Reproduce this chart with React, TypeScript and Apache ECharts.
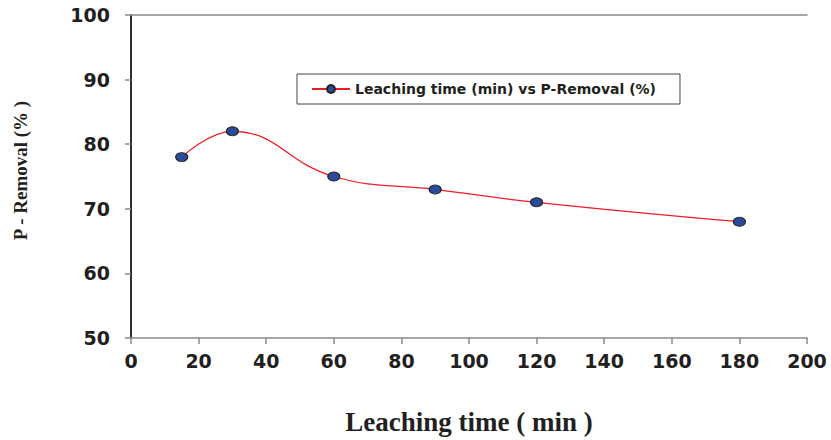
import React, { useEffect, useRef } from "react";
import * as echarts from "echarts";

const seriesName = "Leaching time (min) vs P-Removal (%)";
const leachingTime = [15, 30, 60, 90, 120, 180];
const pRemoval = [78, 82, 75, 73, 71, 68];
const xTitle = "Leaching time ( min )";
const yTitle = "P - Removal (% )";

export default function App() {
  const ref = useRef<HTMLDivElement>(null);
  useEffect(() => {
    if (!ref.current) return;
    const chart = echarts.init(ref.current, undefined, { renderer: "svg" });
    const labelFont = {
      fontFamily: "DejaVu Sans",
      fontWeight: "bold" as const,
      fontSize: 19,
      color: "#231f20",
    };
    const data = leachingTime.map((t, i) => [t, pRemoval[i]]);
    chart.setOption({
      animation: false,
      backgroundColor: "#ffffff",
      grid: { left: 131, top: 15, width: 676, height: 326, containLabel: false },
      legend: {
        data: [seriesName],
        left: 297,
        top: 74,
        borderColor: "#444",
        borderWidth: 1,
        borderRadius: 0,
        padding: [8, 24, 8, 14],
        itemWidth: 38,
        itemHeight: 10,
        textStyle: {
          fontFamily: "DejaVu Sans",
          fontWeight: "bold",
          fontSize: 14,
          color: "#231f20",
        },
      },
      xAxis: [
        {
          type: "value",
          min: 0,
          max: 200,
          interval: 20,
          name: xTitle,
          nameLocation: "middle",
          nameGap: 70,
          nameTextStyle: {
            fontFamily: "Liberation Serif",
            fontWeight: "bold",
            fontSize: 27,
            color: "#231f20",
          },
          axisLine: { show: true, lineStyle: { color: "#8a8a8a", width: 1.5 } },
          axisTick: { show: true, inside: false, length: 6, lineStyle: { color: "#8a8a8a", width: 1.5 } },
          axisLabel: { ...labelFont, margin: 13 },
          splitLine: { show: false },
        },
        {
          type: "value",
          position: "top",
          min: 0,
          max: 200,
          interval: 20,
          axisLine: { show: true, lineStyle: { color: "#8a8a8a", width: 1.5 } },
          axisTick: { show: false },
          axisLabel: { show: false },
          splitLine: { show: false },
        },
      ],
      yAxis: [
        {
          type: "value",
          min: 50,
          max: 100,
          interval: 10,
          name: yTitle,
          nameLocation: "middle",
          nameGap: 101,
          nameRotate: 90,
          nameTextStyle: {
            fontFamily: "Liberation Serif",
            fontWeight: "bold",
            fontSize: 19,
            color: "#231f20",
            padding: [0, 0, 0, 12],
          },
          axisLine: { show: true, lineStyle: { color: "#231f20", width: 1.5 } },
          axisTick: { show: true, inside: false, length: 6, lineStyle: { color: "#8a8a8a", width: 1.5 } },
          axisLabel: { ...labelFont, margin: 21 },
          splitLine: { show: false },
        },
        {
          type: "value",
          position: "right",
          min: 50,
          max: 100,
          interval: 10,
          axisLine: { show: true, lineStyle: { color: "#231f20", width: 1.5 } },
          axisTick: { show: false },
          axisLabel: { show: false },
          splitLine: { show: false },
        },
      ],
      series: [
        {
          name: seriesName,
          type: "line",
          data,
          smooth: 0.45,
          symbol: "circle",
          symbolSize: [12, 9],
          lineStyle: { color: "#ee1c25", width: 1.2 },
          itemStyle: { color: "#2b4a9b", borderColor: "#222", borderWidth: 1 },
        },
      ],
    });
    return () => chart.dispose();
  }, []);
  return (
    <div
      ref={ref}
      style={{ position: "fixed", left: 0, top: 0, width: 831, height: 440 }}
    />
  );
}
